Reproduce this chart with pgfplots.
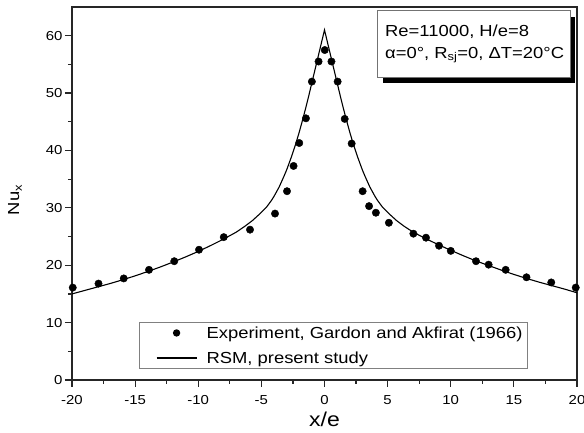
\documentclass[border=0pt]{standalone}
\usepackage{pgfplots}
\pgfplotsset{compat=1.18}
\usepackage{fontspec}
\setmainfont[FakeStretch=1.15]{Liberation Sans}

\begin{document}
\begin{tikzpicture}[x=1pt,y=1pt]
\useasboundingbox (-72,-53) rectangle (512,380);
\begin{axis}[
  at={(0,0)}, anchor=south west,
  scale only axis, width=505pt, height=373pt,
  xmin=-20, xmax=20, ymin=0, ymax=65,
  xtick={-20,-15,...,20}, ytick={0,10,...,60},
  minor xtick={-17.5,-12.5,...,17.5}, minor ytick={5,15,...,55},
  tick pos=left, tick align=outside,
  major tick length=7pt, minor tick length=4pt,
  axis line style={line width=1.2pt, black!85},
  every tick/.style={line width=1.2pt, black!85},
  /pgf/number format/assume math mode=true,
  tick label style={font=\fontsize{13}{15}\selectfont},
  x tick label style={yshift=-5pt},
  y tick label style={xshift=1pt},
  xlabel={x/e},
  xlabel style={at={(axis description cs:0.5,0)}, anchor=base, yshift=-46.7pt,
    font=\fontsize{20}{24}\selectfont},
  clip mode=individual,
  legend style={at={(axis description cs:0.518,0.0295)}, anchor=south,
    draw=black!50, line width=0.8pt, font=\fontsize{16}{19}\selectfont,
    cells={anchor=west}, row sep=8pt},
]
% Gardon and Akfirat (1966) measurements
\addplot[only marks, mark=*, mark size=3.7pt, black,
  legend image code/.code={\path[draw=none,fill=none] (-14pt,0) -- (48pt,0);
    \fill[black,draw=none] (20pt,0) circle (3.7pt);}]
  coordinates {
  (-19.94,16.1) (-17.9,16.8) (-15.9,17.7) (-13.9,19.2) (-11.9,20.7)
  (-9.94,22.7) (-7.98,24.9) (-5.9,26.2) (-3.92,29.0) (-2.97,32.9)
  (-2.45,37.3) (-2.0,41.3) (-1.47,45.6) (-1.0,52.0) (-0.47,55.5)
  (0.02,57.5) (0.55,55.5) (1.04,52.0) (1.6,45.5) (2.15,41.2)
  (3.02,32.9) (3.53,30.3) (4.07,29.15) (5.1,27.4) (7.04,25.5)
  (8.04,24.8) (9.07,23.4) (10.0,22.5) (12.0,20.7) (13.0,20.1)
  (14.35,19.2) (16.0,17.9) (17.96,17.0) (19.9,16.1)
  };
\addlegendentry{Experiment, Gardon and Akfirat (1966)}
% RSM prediction
\addplot[black, line width=1.1pt,
  legend image code/.code={\path[draw=none,fill=none] (-14pt,0) -- (48pt,0);
    \draw[black, line width=1.1pt] (0pt,0) -- (40pt,0);}]
  coordinates {
  (-20,15.0) (-19,15.6) (-18,16.2) (-17,16.8) (-16,17.45) (-15,18.15)
  (-14,18.9) (-13,19.7) (-12,20.55) (-11,21.45) (-10,22.4) (-9,23.45)
  (-8,24.55) (-7,25.75) (-6.3,26.8) (-5.7,27.8) (-5.1,29.0) (-4.6,30.1)
  (-4.2,31.3) (-4.0,32.0) (-3.6,33.6) (-3.25,35.3) (-3.0,36.6)
  (-2.6,39.0) (-2.3,41.0) (-2.0,43.2) (-1.75,45.2) (-1.5,47.3)
  (-1.25,49.5) (-1.0,51.8) (-0.75,54.1) (-0.5,56.4) (-0.25,58.7) (0,61.0)
  (0.25,58.7) (0.5,56.4) (0.75,54.1) (1.0,51.8) (1.25,49.5) (1.5,47.3)
  (1.75,45.2) (2.0,43.2) (2.3,41.0) (2.6,39.0) (3.0,36.6) (3.25,35.3)
  (3.6,33.6) (4.0,32.0) (4.2,31.3) (4.6,30.1) (5.1,29.0) (5.7,27.8)
  (6.3,26.8) (7,25.8) (8,24.65) (9,23.6) (10,22.6) (11,21.65) (12,20.75)
  (13,19.95) (14,19.15) (15,18.4) (16,17.7) (17,17.05) (18,16.45)
  (19,15.85) (20,15.2)
  };
\addlegendentry{RSM, present study}
\end{axis}
% y-axis title
\node[rotate=90, font=\fontsize{16}{19}\selectfont] at (-57,180) {Nu\textsubscript{x}};
% parameter box with drop shadow
\fill[black] (311,297) rectangle (503,363.3);
\draw[black!55, line width=0.8pt, fill=white] (305,303) rectangle (498,370);
\node[anchor=base west, inner sep=0, font=\fontsize{16}{19}\selectfont] at (313,343.3) {Re=11000, H/e=8};
\node[anchor=base west, inner sep=0, font=\fontsize{16}{19}\selectfont] at (313,321.7) {α=0°, R\textsubscript{sj}=0, ΔT=20°C};
\end{tikzpicture}
\end{document}
